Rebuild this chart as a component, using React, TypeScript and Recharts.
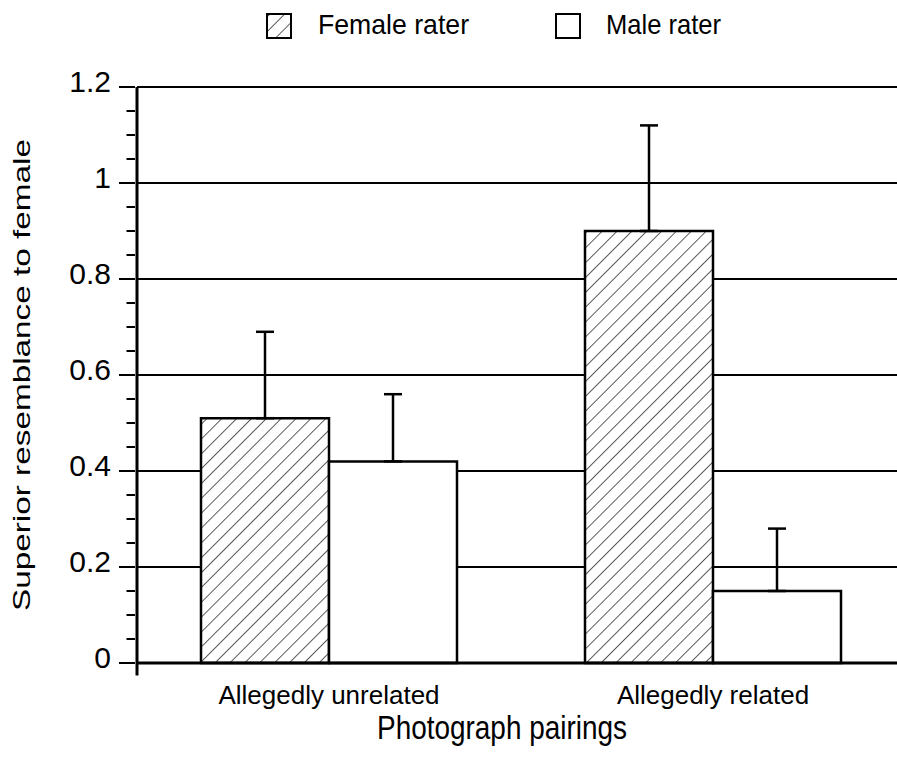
import React from 'react';
import { BarChart, Bar, XAxis, YAxis, CartesianGrid, ErrorBar, ReferenceLine, Legend } from 'recharts';

const categories = ['Allegedly unrelated', 'Allegedly related'];
const femaleValues = [0.51, 0.9];
const maleValues = [0.42, 0.15];
const femaleErrors = [0.18, 0.22];
const maleErrors = [0.14, 0.13];
const seriesNames = ['Female rater', 'Male rater'];
const yMajorTicks = [0, 0.2, 0.4, 0.6, 0.8, 1, 1.2];
const yTickLabels = ['0', '0.2', '0.4', '0.6', '0.8', '1', '1.2'];
const yMinorTicks = [0.05, 0.1, 0.15, 0.25, 0.3, 0.35, 0.45, 0.5, 0.55, 0.65, 0.7, 0.75, 0.85, 0.9, 0.95, 1.05, 1.1, 1.15];
const yTitle = 'Superior resemblance to female';
const xTitle = 'Photograph pairings';

const data = categories.map((c, i) => ({
  category: c,
  female: femaleValues[i],
  male: maleValues[i],
  femaleErr: [0, femaleErrors[i]],
  maleErr: [0, maleErrors[i]],
}));
const allYTicks = [...yMajorTicks, ...yMinorTicks].sort((a, b) => a - b);

const FONT = '"Liberation Sans", Arial, Helvetica, sans-serif';

const YTick = (props: any) => {
  const { x, y, payload } = props;
  const idx = yMajorTicks.findIndex((v) => Math.abs(v - payload.value) < 1e-9);
  const major = idx >= 0;
  return (
    <g>
      <line x1={x - (major ? 16 : 8.5)} x2={x} y1={y} y2={y} stroke="#000" strokeWidth={2} />
      {major && (
        <text x={x - 24} y={y + 4.8} textAnchor="end" fontSize={30} fontFamily={FONT} fill="#000">
          {yTickLabels[idx]}
        </text>
      )}
    </g>
  );
};

const XTick = (props: any) => {
  const { x, y, payload } = props;
  return (
    <text x={x} y={y + 39} textAnchor="middle" fontSize={26} fontFamily={FONT} fill="#000">
      {payload.value}
    </text>
  );
};

const YTitle = (props: any) => {
  const vb = props.viewBox || { x: 29, y: 79, width: 100, height: 576 };
  const cx = vb.x - 7;
  const cy = vb.y + vb.height / 2;
  return (
    <text
      x={cx}
      y={cy}
      transform={`rotate(-90, ${cx}, ${cy})`}
      textAnchor="middle"
      fontSize={24}
      fontFamily={FONT}
      fill="#000"
      textLength={472}
      lengthAdjust="spacingAndGlyphs"
    >
      {yTitle}
    </text>
  );
};

const XTitle = (props: any) => {
  const vb = props.viewBox || { x: 129, y: 655, width: 768, height: 60 };
  return (
    <text
      x={vb.x + vb.width / 2 - 19}
      y={vb.y + 75.5}
      textAnchor="middle"
      fontSize={33}
      fontFamily={FONT}
      fill="#000"
      textLength={250}
      lengthAdjust="spacingAndGlyphs"
    >
      {xTitle}
    </text>
  );
};

const LegendContent = () => (
  <div style={{ position: 'relative', height: 0 }}>
    <svg style={{ position: 'absolute', left: 0, top: 0, overflow: 'visible' }} width={897} height={50}>
      <defs>
        <pattern id="hatchL" width="10.5" height="10.5" patternUnits="userSpaceOnUse" patternTransform="rotate(45)">
          <rect width="10.5" height="10.5" fill="#fff" />
          <line x1="0" y1="0" x2="0" y2="10.5" stroke="#333" strokeWidth={1.6} />
        </pattern>
      </defs>
      <rect x={259} y={6} width={24} height={24} fill="url(#hatchL)" stroke="#000" strokeWidth={2} />
      <text x={310} y={26} fontSize={28} fontFamily={FONT} fill="#000" textLength={151} lengthAdjust="spacingAndGlyphs">
        {seriesNames[0]}
      </text>
      <rect x={548} y={6} width={24} height={24} fill="#fff" stroke="#000" strokeWidth={2} />
      <text x={598} y={26} fontSize={28} fontFamily={FONT} fill="#000" textLength={115} lengthAdjust="spacingAndGlyphs">
        {seriesNames[1]}
      </text>
    </svg>
  </div>
);

export default function App() {
  return (
    <div style={{ position: 'absolute', left: 0, top: 0, width: 897, height: 760, overflow: 'hidden', background: '#fff' }}>
      <div style={{ position: 'absolute', left: 8, top: 8 }}>
        <BarChart
          width={897}
          height={744}
          data={data}
          margin={{ top: 79, right: 0, bottom: 29, left: 29 }}
          barCategoryGap={64}
          barGap={0}
        >
          <defs>
            <pattern id="hatchF" width="10.5" height="10.5" patternUnits="userSpaceOnUse" patternTransform="rotate(45)">
              <rect width="10.5" height="10.5" fill="#fff" />
              <line x1="0" y1="0" x2="0" y2="10.5" stroke="#333" strokeWidth={1.6} />
            </pattern>
          </defs>
          <Legend
            verticalAlign="top"
            content={LegendContent}
            wrapperStyle={{ top: 0, left: 0, width: 897, height: 0 }}
          />
          <CartesianGrid vertical={false} horizontalValues={yMajorTicks} stroke="#000" strokeWidth={2} />
          <XAxis
            dataKey="category"
            tickLine={false}
            tickSize={0}
            interval={0}
            axisLine={{ stroke: '#000', strokeWidth: 3 }}
            height={60}
            tick={XTick}
            label={XTitle}
          />
          <XAxis xAxisId="n" type="number" domain={[0, 2]} hide />
          <YAxis
            type="number"
            domain={[0, 1.2]}
            ticks={allYTicks}
            interval={0}
            tickSize={0}
            tickLine={false}
            tick={YTick}
            axisLine={{ stroke: '#000', strokeWidth: 3 }}
            width={100}
            label={YTitle}
          />
          <Bar dataKey="female" name={seriesNames[0]} fill="url(#hatchF)" stroke="#000" strokeWidth={2.5} isAnimationActive={false}>
            <ErrorBar dataKey="femaleErr" width={9} stroke="#000" strokeWidth={2.5} direction="y" isAnimationActive={false} />
          </Bar>
          <Bar dataKey="male" name={seriesNames[1]} fill="#fff" stroke="#000" strokeWidth={2.5} isAnimationActive={false}>
            <ErrorBar dataKey="maleErr" width={9} stroke="#000" strokeWidth={2.5} direction="y" isAnimationActive={false} />
          </Bar>
          <ReferenceLine xAxisId="n" segment={[{ x: 1, y: -0.026 }, { x: 1, y: 1.2 }]} stroke="#000" strokeWidth={2.5} ifOverflow="visible" />
          <ReferenceLine xAxisId="n" segment={[{ x: 0, y: -0.026 }, { x: 0, y: 0 }]} stroke="#000" strokeWidth={3} ifOverflow="visible" />
        </BarChart>
      </div>
    </div>
  );
}
